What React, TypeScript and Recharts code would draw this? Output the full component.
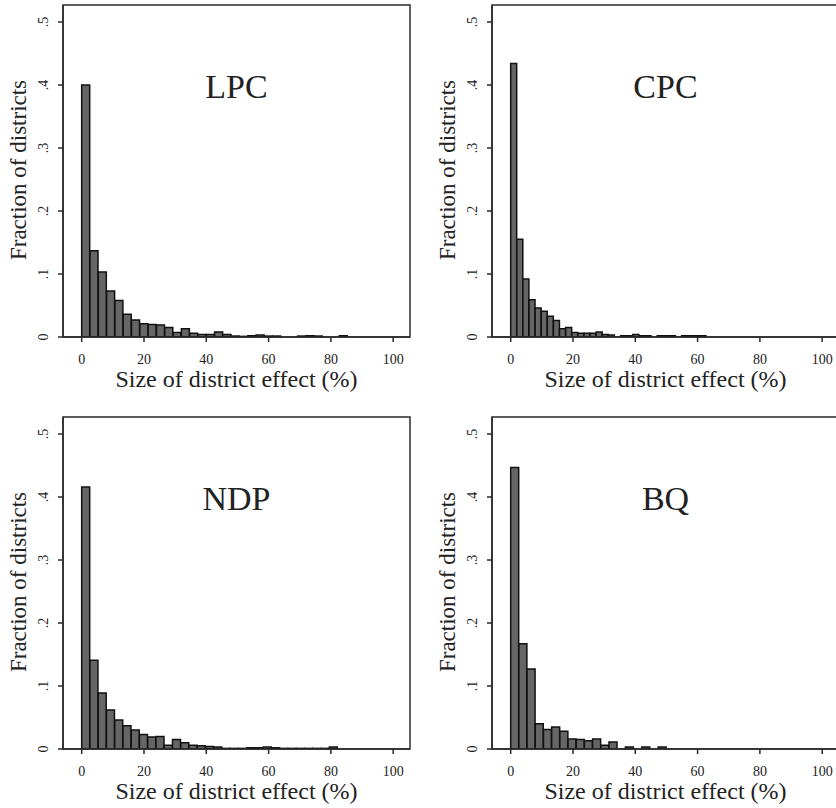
import React from 'react';
import { BarChart, Bar, XAxis, YAxis, ReferenceArea } from 'recharts';

// Bin widths (percentage points) for each party's histogram
const lpcBinWidth = 2.667;
const cpcBinWidth = 1.96;
const ndpBinWidth = 2.65;
const bqBinWidth = 2.63;

// Fraction of districts in each successive bin, starting at 0
const lpcFractions = [
  0.4, 0.137, 0.103, 0.073, 0.058, 0.036, 0.027, 0.021, 0.02, 0.019, 0.015, 0.007, 0.013, 0.006, 0.004, 0.004,
  0.008, 0.004, 0.0015, 0.001, 0.002, 0.003, 0.0015, 0.0015, 0, 0, 0.0015, 0.002, 0.0015, 0, 0, 0.002,
];
const cpcFractions = [
  0.434, 0.155, 0.092, 0.059, 0.046, 0.041, 0.033, 0.026, 0.013, 0.015, 0.007, 0.006, 0.006, 0.006, 0.008, 0.004,
  0.003, 0, 0.002, 0.002, 0.004, 0.002, 0.002, 0, 0.002, 0.002, 0.002, 0, 0.002, 0.002, 0.002, 0.002,
];
const ndpFractions = [
  0.416, 0.141, 0.089, 0.062, 0.046, 0.037, 0.03, 0.023, 0.019, 0.02, 0.006, 0.015, 0.01, 0.006, 0.005, 0.004,
  0.003, 0.001, 0.001, 0.001, 0.002, 0.002, 0.003, 0.002, 0.001, 0.001, 0.001, 0.001, 0.001, 0.001, 0.003,
];
const bqFractions = [
  0.447, 0.167, 0.127, 0.04, 0.031, 0.035, 0.028, 0.016, 0.015, 0.013, 0.016, 0.006, 0.011, 0, 0.003, 0, 0.003,
  0, 0.003,
];

const partyTitles = ['LPC', 'CPC', 'NDP', 'BQ'];
const xTicks = [0, 20, 40, 60, 80, 100];
const yTicks = [0, 0.1, 0.2, 0.3, 0.4, 0.5];
const xLabel = 'Size of district effect (%)';
const yLabel = 'Fraction of districts';

const SERIF = 'Liberation Serif';
const INK = '#222';
const FRAME = '#2a2a2a';
const X_DOMAIN = [-6, 105.4];
const Y_DOMAIN = [0, 0.527];

const buildBins = (fractions: number[], width: number) =>
  fractions.map((f, i) => ({ x: (i + 0.5) * width, y: f }));

const fmtY = (v: number) => (v === 0 ? '0' : '.' + Math.round(v * 10));

const RotTick = (props: any) => {
  const { x, y, payload } = props;
  const bx = x - 8;
  return (
    <text
      x={bx}
      y={y}
      transform={`rotate(-90, ${bx}, ${y})`}
      textAnchor="middle"
      fontFamily={SERIF}
      fontSize={14}
      fill={INK}
    >
      {fmtY(payload.value)}
    </text>
  );
};

const XTick = (props: any) => {
  const { x, y, payload } = props;
  return (
    <text x={x} y={y + 10} textAnchor="middle" fontFamily={SERIF} fontSize={14} fill={INK}>
      {payload.value}
    </text>
  );
};

const XTitle = (props: any) => {
  const vb = props.viewBox || {};
  return (
    <text
      x={vb.x + vb.width / 2}
      y={vb.y + 50}
      textAnchor="middle"
      fontFamily={SERIF}
      fontSize={24}
      fill={INK}
    >
      {xLabel}
    </text>
  );
};

const YTitle = (props: any) => {
  const vb = props.viewBox || {};
  const cx = 25.5;
  const cy = vb.y + vb.height / 2 - 1;
  return (
    <text
      x={cx}
      y={cy}
      transform={`rotate(-90, ${cx}, ${cy})`}
      textAnchor="middle"
      fontFamily={SERIF}
      fontSize={23}
      fill={INK}
    >
      {yLabel}
    </text>
  );
};

const CW = 420;
const CH = 397;
const lineProps = { stroke: FRAME, strokeWidth: 1.5 };

function Panel({ title, fractions, binWidth, left, top }: any) {
  const data = buildBins(fractions, binWidth);
  return (
    <div style={{ position: 'absolute', left, top, width: CW, height: CH, fontFamily: SERIF }}>
      <BarChart
        width={CW}
        height={CH}
        data={data}
        margin={{ top: 5, right: 10, bottom: 0, left: 0 }}
        barCategoryGap={0}
        barGap={0}
        style={{ fontFamily: SERIF }}
      >
        <XAxis
          dataKey="x"
          type="number"
          domain={X_DOMAIN}
          allowDataOverflow
          ticks={xTicks}
          interval={0}
          height={60}
          tickSize={5}
          tickMargin={12}
          axisLine={lineProps}
          tickLine={lineProps}
          tick={<XTick />}
          label={<XTitle />}
        />
        <YAxis
          type="number"
          domain={Y_DOMAIN}
          allowDataOverflow
          ticks={yTicks}
          interval={0}
          width={63}
          tickSize={5}
          tickMargin={2}
          axisLine={lineProps}
          tickLine={lineProps}
          tick={<RotTick />}
          label={<YTitle />}
        />
        <Bar dataKey="y" fill="#666666" stroke="#111" strokeWidth={1.5} isAnimationActive={false} />
        <ReferenceArea
          x1={X_DOMAIN[0]}
          x2={X_DOMAIN[1]}
          y1={Y_DOMAIN[0]}
          y2={Y_DOMAIN[1]}
          fill="none"
          fillOpacity={0}
          stroke={FRAME}
          strokeWidth={1.5}
          ifOverflow="visible"
        />
      </BarChart>
      <div
        style={{
          position: 'absolute',
          left: 63,
          width: 347,
          top: 5 + 93 - 30,
          height: 38,
          lineHeight: '38px',
          textAlign: 'center',
          fontFamily: SERIF,
          fontSize: 34,
          color: INK,
          pointerEvents: 'none',
        }}
      >
        {title}
      </div>
    </div>
  );
}

export default function App() {
  return (
    <div
      style={{
        position: 'absolute',
        left: 0,
        top: 0,
        width: 836,
        height: 808,
        overflow: 'hidden',
        background: '#fff',
      }}
    >
      <Panel title={partyTitles[0]} fractions={lpcFractions} binWidth={lpcBinWidth} left={0} top={0} />
      <Panel title={partyTitles[1]} fractions={cpcFractions} binWidth={cpcBinWidth} left={429} top={0} />
      <Panel title={partyTitles[2]} fractions={ndpFractions} binWidth={ndpBinWidth} left={0} top={412} />
      <Panel title={partyTitles[3]} fractions={bqFractions} binWidth={bqBinWidth} left={429} top={412} />
    </div>
  );
}
